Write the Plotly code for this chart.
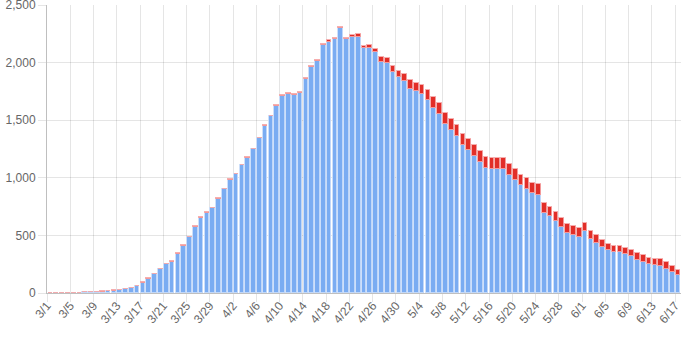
import pandas as pd
import plotly.graph_objects as go

# Daily categories 3/1 .. 6/17
dates = [f"{d.month}/{d.day}" for d in pd.date_range("2020-03-01", "2020-06-17")]

# Lower (blue) segment of each day's stacked bar
blue = [0, 0, 0, 0, 1, 2, 7, 10, 10, 11, 14, 20, 25, 34, 41, 57, 89, 124, 163, 206,
        249, 273, 340, 410, 482, 574, 650, 697, 734, 820, 899, 985, 1031, 1109, 1175,
        1247, 1342, 1453, 1533, 1626, 1711, 1729, 1718, 1732, 1856, 1963, 2013, 2152,
        2181, 2204, 2300, 2202, 2225, 2225, 2124, 2124, 2092, 2008, 1996, 1918, 1872,
        1843, 1773, 1756, 1724, 1672, 1606, 1554, 1464, 1415, 1363, 1284, 1241, 1189,
        1137, 1085, 1079, 1076, 1076, 1027, 984, 940, 906, 868, 853, 697, 665, 622, 573,
        524, 506, 486, 535, 472, 437, 399, 373, 356, 358, 336, 318, 289, 266, 255, 246,
        234, 211, 182, 156]

# Upper (red) segment of each day's stacked bar
red = [2, 2, 2, 2, 2, 2, 2, 2, 2, 3, 3, 3, 4, 4, 5, 6, 7, 4, 5, 5,
       5, 8, 5, 5, 6, 6, 6, 6, 6, 6, 6, 5, 5, 5, 5, 6, 6, 8, 6, 9,
       10, 10, 12, 10, 10, 10, 12, 12, 12, 12, 12, 14, 17, 20, 23, 26, 29, 40, 46, 55,
       58, 61, 73, 69, 78, 90, 95, 98, 98, 95, 98, 96, 96, 93, 95, 92, 93, 96, 93, 93,
       89, 87, 89, 87, 93, 84, 81, 81, 78, 75, 75, 75, 75, 69, 63, 58, 55, 52, 50, 52,
       58, 58, 61, 52, 52, 58, 58, 52, 44]

x = list(range(len(dates)))
tick_idx = x[::4]
tick_txt = [dates[i] for i in tick_idx]

fig = go.Figure()
fig.add_trace(go.Bar(
    x=x, y=blue, width=0.8,
    marker=dict(color="rgb(122,172,242)",
                line=dict(color="rgba(200,220,250,0.9)", width=1)),
))
fig.add_trace(go.Bar(
    x=x, y=red, width=0.8,
    marker=dict(color="rgb(226,46,40)",
                line=dict(color="rgba(245,165,165,0.9)", width=1)),
))

grid = "rgba(0,0,0,0.1)"
fig.update_layout(
    barmode="stack",
    showlegend=False,
    width=684, height=342,
    margin=dict(l=47, r=3, t=5, b=49, autoexpand=False),
    paper_bgcolor="white", plot_bgcolor="white",
    font=dict(family="Arial, Liberation Sans, sans-serif", size=12, color="#666"),
    bargap=0,
)
fig.update_xaxes(
    range=[-0.5, len(dates) - 0.5], automargin=False,
    tickmode="array", tickvals=tick_idx, ticktext=tick_txt,
    tickangle=-50, ticks="", showgrid=False, ticklabeloverflow="allow",
    ticklabelshift=-3,
    showline=True, linecolor="rgba(0,0,0,0.25)", linewidth=1,
    zeroline=False,
    minor=dict(tickmode="linear", tick0=-0.5, dtick=4, showgrid=True,
               gridcolor=grid, gridwidth=1, ticks="outside", ticklen=8,
               tickcolor=grid, tickwidth=1),
)
fig.update_yaxes(
    range=[0, 2500], dtick=500, tickformat=",", ticklabeloverflow="allow",
    automargin=False,
    showgrid=True, gridcolor=grid, gridwidth=1,
    ticks="outside", ticklen=8, tickcolor=grid,
    showline=True, linecolor="rgba(0,0,0,0.25)", linewidth=1,
    zeroline=False,
)

fig.write_html("out.html")
